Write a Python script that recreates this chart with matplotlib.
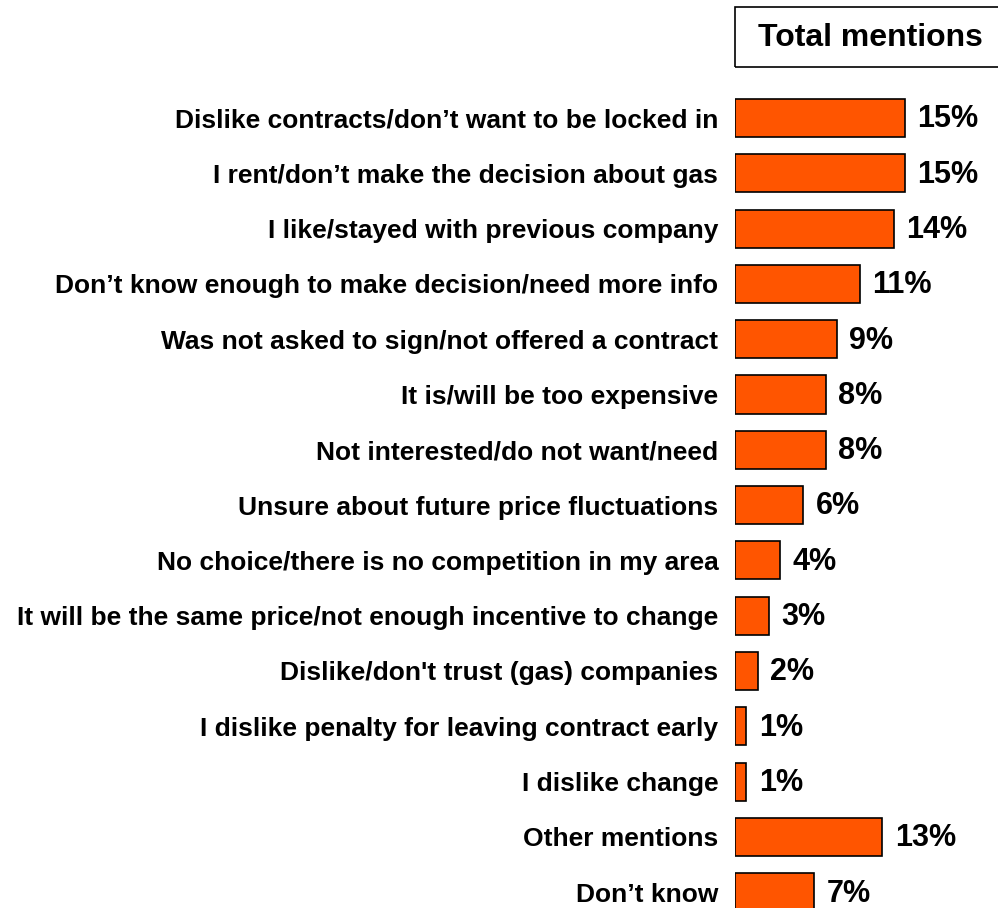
import matplotlib.pyplot as plt
from matplotlib.patches import Rectangle

plt.rcParams['font.family'] = ['Liberation Sans', 'DejaVu Sans']
plt.rcParams['font.weight'] = 'bold'

reasons = [
    "Dislike contracts/don\u2019t want to be locked in",
    "I rent/don\u2019t make the decision about gas",
    "I like/stayed with previous company",
    "Don\u2019t know enough to make decision/need more info",
    "Was not asked to sign/not offered a contract",
    "It is/will be too expensive",
    "Not interested/do not want/need",
    "Unsure about future price fluctuations",
    "No choice/there is no competition in my area",
    "It will be the same price/not enough incentive to change",
    "Dislike/don't trust (gas) companies",
    "I dislike penalty for leaving contract early",
    "I dislike change",
    "Other mentions",
    "Don\u2019t know",
]
mentions = [15, 15, 14, 11, 9, 8, 8, 6, 4, 3, 2, 1, 1, 13, 7]

W, H = 998, 908
fig = plt.figure(figsize=(W / 100, H / 100), dpi=100)

# axes spans the plotting strip right of the labels; 0% sits at x=735px
x0 = 735
px_per_pct = 11.33
ax = fig.add_axes([x0 / W, 0, 1 - x0 / W, 1])
ax.set_xlim(0, (W - x0) / px_per_pct)
row0, step = 118, 55.3
ax.set_ylim((H - row0) / step, -row0 / step)

pos = list(range(len(reasons)))
ax.barh(pos, mentions, height=0.69, color='#ff5500', edgecolor='black', linewidth=1.2)

for p, v in zip(pos, mentions):
    ax.annotate(f"{v}%", (v, p), xytext=(9, -1), textcoords='offset points',
                ha='left', va='center', fontsize=22, fontweight='bold')

ax.set_yticks(pos)
ax.set_yticklabels(reasons, fontsize=19, fontweight='bold')
ax.tick_params(axis='y', length=0, pad=12)
ax.tick_params(axis='x', bottom=False, labelbottom=False)
for s in ax.spines.values():
    s.set_visible(False)
ax.patch.set_visible(False)

# header box
fig.patches.append(Rectangle((x0 / W, 1 - 67 / H), 0.5, 60 / H, transform=fig.transFigure,
                             fill=False, edgecolor='black', linewidth=1.2))
fig.text(870 / W, 1 - 38 / H, "Total mentions", ha='center', va='center',
         fontsize=23, fontweight='bold')

fig.savefig('out.png', dpi=100)
